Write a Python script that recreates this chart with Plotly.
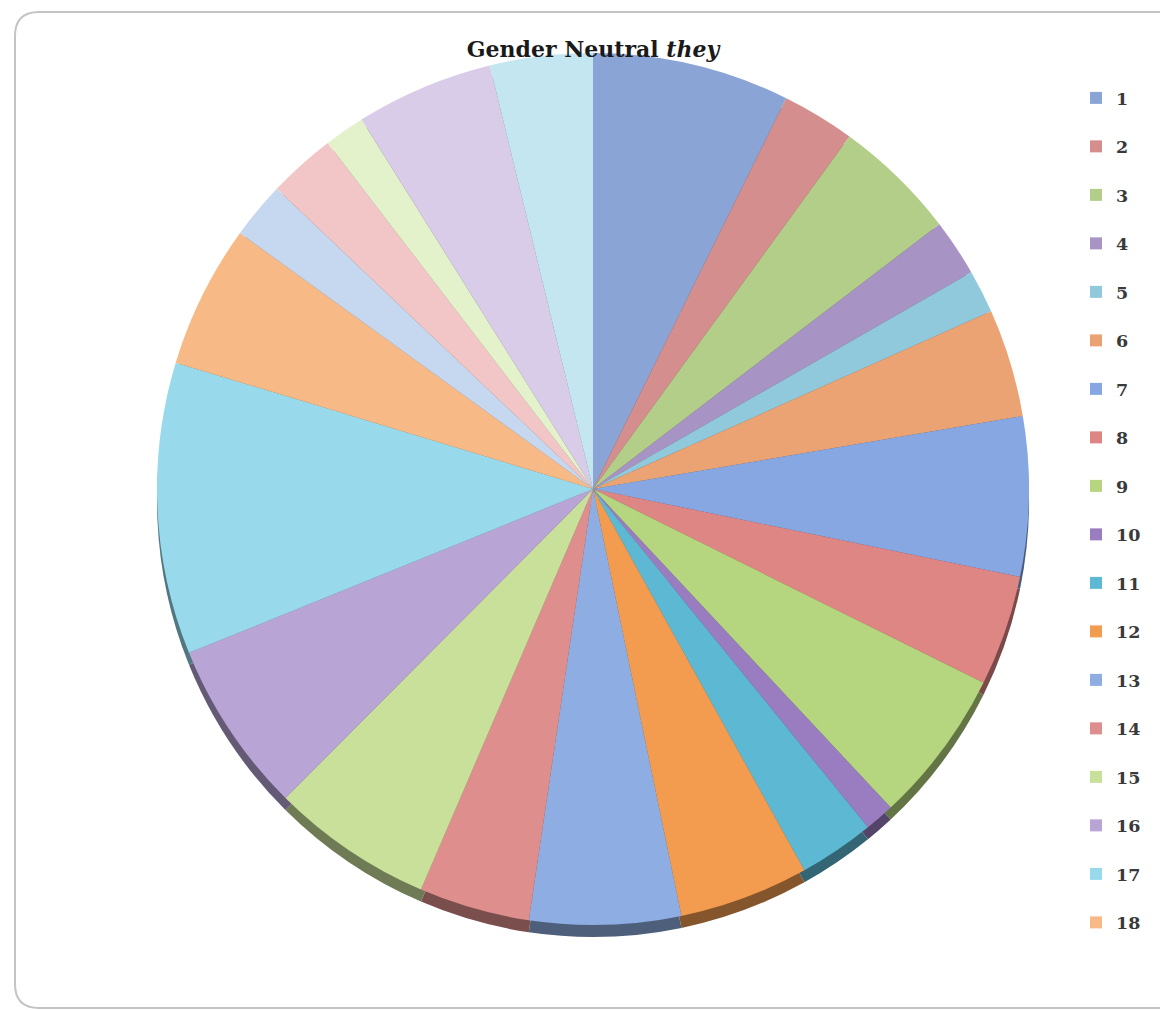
import plotly.graph_objects as go

# Share of each category (percent), listed clockwise from 12 o'clock
categories = [str(i) for i in range(1, 24)]
shares = [7.3, 2.7, 4.6, 2.1, 1.6, 4.0, 5.9, 4.1, 5.7, 1.1, 2.8, 4.8,
          5.6, 4.1, 6.0, 6.4, 10.8, 5.3, 2.1, 2.5, 1.5, 5.1, 3.8]

slice_colors = [
    "#8AA4D6", "#D48E8E", "#B3CE88", "#A894C4", "#90C9DB", "#EBA374",
    "#86A7E2", "#DE8683", "#B5D67F", "#9A7DC0", "#5DB9D3", "#F39C50",
    "#8EADE2", "#DE8E8C", "#C8E09A", "#B9A4D6", "#98DAEC", "#F7BA86",
    "#C6D7F0", "#F2C6C6", "#E3F2CB", "#D8CCE8", "#C4E6F0",
]


def darken(hex_color, f=0.55):
    h = hex_color.lstrip("#")
    r, g, b = (int(h[i:i + 2], 16) for i in (0, 2, 4))
    return "#{:02X}{:02X}{:02X}".format(int(r * f), int(g * f), int(b * f))


edge_colors = [darken(c) for c in slice_colors]

# legend rows are two lines tall to give the roomy spacing
legend_labels = [f"{c}<br>\u00a0" for c in categories]

W, H = 1160, 1010
ML, MR, MT, MB = 150, 124, 53, 73
plot_h = H - MT - MB
depth = 12 / plot_h

fig = go.Figure()

# side wall of the disc, peeking out below the top face
fig.add_trace(go.Pie(
    labels=legend_labels, values=shares, sort=False, direction="clockwise",
    rotation=0, textinfo="none", hoverinfo="skip", showlegend=False,
    marker=dict(colors=edge_colors, line=dict(width=0)),
    domain=dict(x=[0, 1], y=[0, 1 - depth]),
))

# top face of the pie
fig.add_trace(go.Pie(
    labels=legend_labels, values=shares, sort=False, direction="clockwise",
    rotation=0, textinfo="none",
    marker=dict(colors=slice_colors, line=dict(width=0)),
    domain=dict(x=[0, 1], y=[depth, 1]),
))


def px_to_paper(px, py):
    return (px - ML) / (W - ML - MR), (H - MB - py) / plot_h


# rounded frame around the chart
x0, y0 = px_to_paper(15, 12)
x1, y1 = px_to_paper(1185, 1008)
rx = 24 / (W - ML - MR)
ry = 24 / plot_h
frame = (f"M {x0 + rx},{y0} L {x1 - rx},{y0} Q {x1},{y0} {x1},{y0 - ry} "
         f"L {x1},{y1 + ry} Q {x1},{y1} {x1 - rx},{y1} L {x0 + rx},{y1} "
         f"Q {x0},{y1} {x0},{y1 + ry} L {x0},{y0 - ry} Q {x0},{y0} {x0 + rx},{y0} Z")

fig.update_layout(
    width=W, height=H,
    paper_bgcolor="white", plot_bgcolor="white",
    margin=dict(l=ML, r=MR, t=MT, b=MB, autoexpand=False),
    title=dict(
        text="<b>Gender Neutral <i>they</i></b>",
        x=593 / W, xref="container", xanchor="center",
        y=1 - 49 / H, yref="container", yanchor="middle",
        font=dict(family="DejaVu Serif", size=22, color="#1a1a1a"),
    ),
    legend=dict(
        x=1076 / W, xref="container", xanchor="left",
        y=1 - (80 - MT) / plot_h, yref="paper", yanchor="top",
        valign="top", bgcolor="rgba(0,0,0,0)",
        font=dict(family="DejaVu Serif", size=17.5, color="#3a3a3a",
                  weight="bold"),
    ),
    shapes=[dict(type="path", path=frame, xref="paper", yref="paper",
                 line=dict(color="#C4C4C4", width=2), layer="below")],
)

fig.write_html("out.html", config={"staticPlot": True})
